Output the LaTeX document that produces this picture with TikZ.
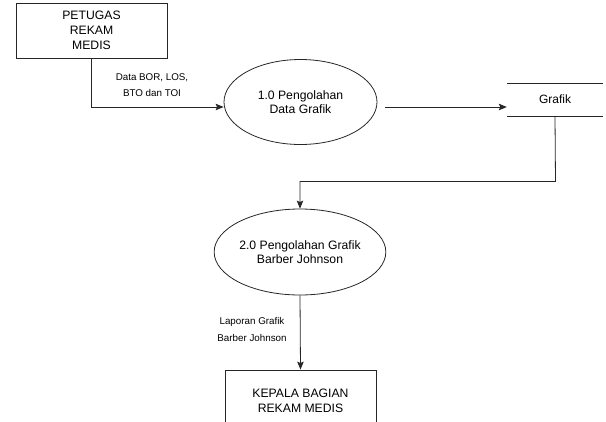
\documentclass[tikz,border=0pt]{standalone}
\usepackage{fontspec}
\setmainfont{Liberation Sans}
\usetikzlibrary{shapes.geometric,arrows.meta}
\begin{document}
\begin{tikzpicture}[x=1pt,y=-1pt,
  ent/.style={draw=black!85, line width=0.8pt, minimum width=151pt, minimum height=55pt, inner sep=0pt, align=center, font=\fontsize{12.2}{15}\selectfont},
  proc/.style={ellipse, draw=black!85, line width=0.8pt, inner sep=0pt, align=center, font=\fontsize{12.2}{14.5}\selectfont, minimum width=153pt, minimum height=85pt},
  store/.style={minimum width=96pt, minimum height=32.5pt, inner sep=0pt, font=\fontsize{12}{14}\selectfont},
  flow/.style={draw=black!85, line width=0.8pt, -{Stealth[length=8pt,width=6.5pt,inset=1.5pt]}},
  lbl/.style={align=center, font=\fontsize{9.8}{16.5}\selectfont}]
\clip (0,0) rectangle (606,421);
% nodes
\node[ent] (pet) at (91.5,30.5) {PETUGAS\\REKAM\\MEDIS};
\node[proc] (p1) at (300.5,102) {1.0 Pengolahan\\Data Grafik};
\node[store] (st) at (555,99.5) {Grafik};
\draw[draw=black!85, line width=0.8pt] (st.north west) -- (st.north east) (st.south west) -- (st.south east);
\node[proc, minimum width=152pt, minimum height=86pt] (p2) at (300,252) {2.0 Pengolahan Grafik\\Barber Johnson};
\node[ent, minimum height=62pt] (kep) at (300.5,401) {KEPALA BAGIAN\\REKAM MEDIS};
% labels
\node[lbl] (l1) at (152,85) {Data BOR, LOS,\\BTO dan TOI};
\node[lbl] (l2) at (252,329.5) {Laporan Grafik\\Barber Johnson};
% connectors
\coordinate (a1) at ([yshift=-5pt]p1.west);
\draw[flow] (pet.south) |- (a1);
\coordinate (a2s) at ([xshift=8pt,yshift=-5pt]p1.east);
\coordinate (a2e) at ([yshift=-7.5pt]st.west);
\draw[flow] (a2s) -- (a2e);
\coordinate (bend) at (555.5,181.5);
\draw[flow] (st.south) -- (bend) -| (p2.north);
\draw[flow] (p2.south) -- (kep.north);
\end{tikzpicture}
\end{document}
